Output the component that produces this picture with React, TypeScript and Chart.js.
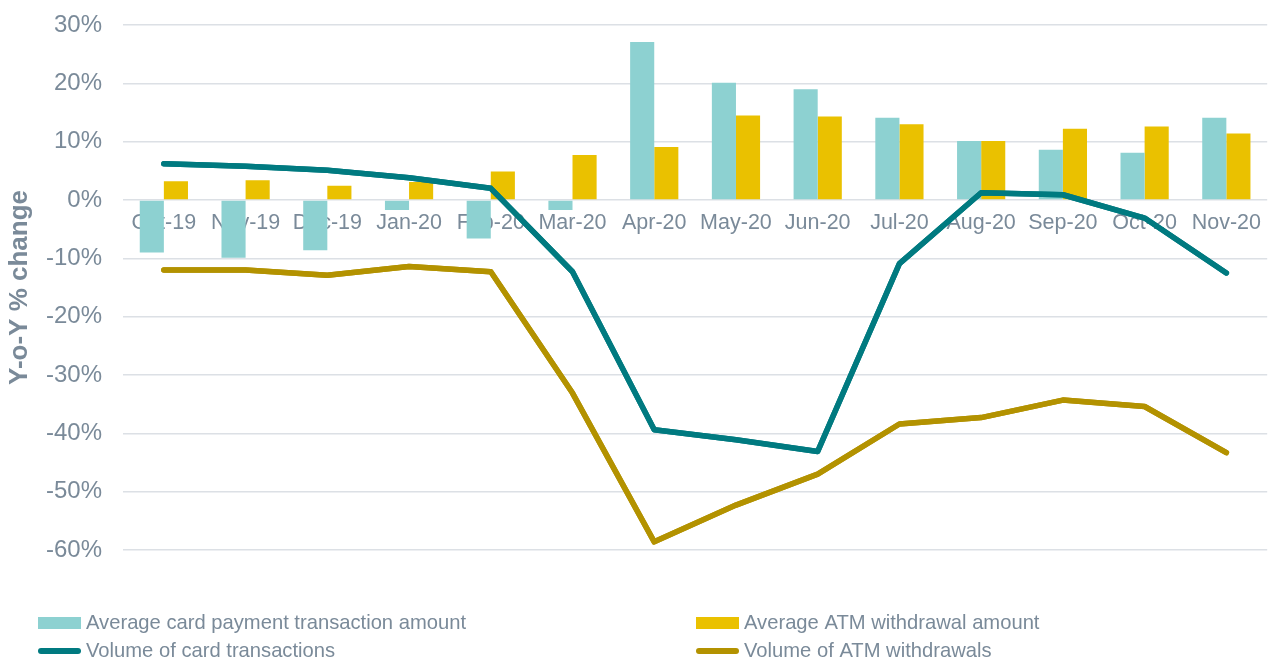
import React, { useEffect, useRef } from "react";
import { Chart, registerables } from "chart.js";

Chart.register(...registerables);

const categories = [
  "Oct-19", "Nov-19", "Dec-19", "Jan-20", "Feb-20", "Mar-20", "Apr-20",
  "May-20", "Jun-20", "Jul-20", "Aug-20", "Sep-20", "Oct-20", "Nov-20",
];
const avgCardPayment = [-9.0, -9.9, -8.6, -1.7, -6.6, -1.7, 27.1, 20.1, 19.0, 14.1, 10.1, 8.6, 8.1, 14.1];
const avgAtmWithdrawal = [3.2, 3.4, 2.45, 3.1, 4.9, 7.7, 9.1, 14.5, 14.3, 13.0, 10.1, 12.2, 12.6, 11.4];
const volCardTransactions = [6.2, 5.8, 5.1, 3.8, 2.0, -12.3, -39.4, -41.1, -43.1, -10.9, 1.25, 0.9, -3.1, -12.5];
const volAtmWithdrawals = [-12.0, -12.0, -12.9, -11.4, -12.3, -33.1, -58.6, -52.3, -47.0, -38.4, -37.3, -34.3, -35.4, -43.3];
const yTicks = [-60, -50, -40, -30, -20, -10, 0, 10, 20, 30];

const seriesNames = [
  "Average card payment transaction amount",
  "Average ATM withdrawal amount",
  "Volume of card transactions",
  "Volume of ATM withdrawals",
];

const CYAN = "#8DD1D1";
const YELLOW = "#EAC100";
const TEAL = "#007A80";
const OLIVE = "#B39200";
const TEXT = "#7A8A99";
const GRID = "#DCE0E5";
const FONT = "'Liberation Sans', Arial, sans-serif";

const legendPlugin = {
  id: "customLegend",
  afterDraw(chart: any) {
    const ctx = chart.ctx;
    // redraw lines on top of axis labels
    chart.data.datasets.forEach((ds: any, i: number) => {
      if (ds.type === "line") {
        const meta = chart.getDatasetMeta(i);
        ctx.save();
        meta.controller.draw();
        ctx.restore();
      }
    });
    const items = [
      { col: 0, row: 0, kind: "box", color: CYAN, text: chart.data.datasets[0].label },
      { col: 1, row: 0, kind: "box", color: YELLOW, text: chart.data.datasets[1].label },
      { col: 0, row: 1, kind: "line", color: TEAL, text: chart.data.datasets[2].label },
      { col: 1, row: 1, kind: "line", color: OLIVE, text: chart.data.datasets[3].label },
    ];
    const colX = [38, 696];
    const rowY = [623, 651];
    ctx.save();
    ctx.font = `20.2px ${FONT}`;
    ctx.textBaseline = "middle";
    ctx.textAlign = "left";
    items.forEach((it) => {
      const x = colX[it.col];
      const y = rowY[it.row];
      if (it.kind === "box") {
        ctx.fillStyle = it.color;
        ctx.fillRect(x, y - 6, 43, 12);
      } else {
        ctx.strokeStyle = it.color;
        ctx.lineWidth = 6;
        ctx.lineCap = "round";
        ctx.beginPath();
        ctx.moveTo(x + 3, y);
        ctx.lineTo(x + 40, y);
        ctx.stroke();
      }
      ctx.fillStyle = TEXT;
      ctx.fillText(it.text, x + 48, y);
    });
    ctx.restore();
  },
};

export default function App() {
  const ref = useRef<HTMLCanvasElement | null>(null);
  useEffect(() => {
    if (!ref.current) return;
    const chart = new Chart(ref.current, {
      type: "bar",
      data: {
        labels: categories,
        datasets: [
          {
            type: "bar",
            label: seriesNames[0],
            data: avgCardPayment,
            backgroundColor: CYAN,
            categoryPercentage: 0.59,
            barPercentage: 1,
            order: 2,
          },
          {
            type: "bar",
            label: seriesNames[1],
            data: avgAtmWithdrawal,
            backgroundColor: YELLOW,
            categoryPercentage: 0.59,
            barPercentage: 1,
            order: 2,
          },
          {
            type: "line",
            label: seriesNames[2],
            data: volCardTransactions,
            borderColor: TEAL,
            backgroundColor: TEAL,
            borderWidth: 5.5,
            pointRadius: 0,
            borderJoinStyle: "round",
            borderCapStyle: "round",
            tension: 0,
            order: 1,
          },
          {
            type: "line",
            label: seriesNames[3],
            data: volAtmWithdrawals,
            borderColor: OLIVE,
            backgroundColor: OLIVE,
            borderWidth: 5.5,
            pointRadius: 0,
            borderJoinStyle: "round",
            borderCapStyle: "round",
            tension: 0,
            order: 1,
          },
        ],
      } as any,
      options: {
        responsive: false,
        animation: false,
        layout: { padding: { top: 25, bottom: 112, left: 0, right: 0 } },
        plugins: {
          legend: { display: false },
          tooltip: { enabled: false },
        },
        scales: {
          x: {
            position: { y: 0 } as any,
            z: 1,
            grid: { display: false, drawTicks: false },
            border: { display: false },
            ticks: {
              color: TEXT,
              font: { family: FONT, size: 21.5 },
              padding: 10,
              maxRotation: 0,
              autoSkip: false,
            },
          },
          y: {
            min: -60,
            max: 30,
            afterBuildTicks: (scale: any) => {
              scale.ticks = yTicks.map((v) => ({ value: v }));
            },
            afterFit: (scale: any) => {
              scale.width = 123;
            },
            grid: {
              color: GRID,
              lineWidth: 1.5,
              drawTicks: true,
              tickLength: 21,
              tickColor: "rgba(0,0,0,0)",
            },
            border: { display: false },
            ticks: {
              color: TEXT,
              font: { family: FONT, size: 24 },
              padding: 0,
              callback: (v: any) => `${v}%`,
            },
            title: {
              display: true,
              text: "Y-o-Y % change",
              color: TEXT,
              font: { family: FONT, size: 26, weight: "bold" },
              padding: { top: 4, bottom: 0 },
            },
          },
        },
      },
      plugins: [legendPlugin],
    });
    return () => chart.destroy();
  }, []);
  return (
    <div style={{ position: "absolute", left: 0, top: 0, width: 1271, height: 662, background: "#fff" }}>
      <canvas ref={ref} width={1271} height={662} style={{ display: "block" }} />
    </div>
  );
}
